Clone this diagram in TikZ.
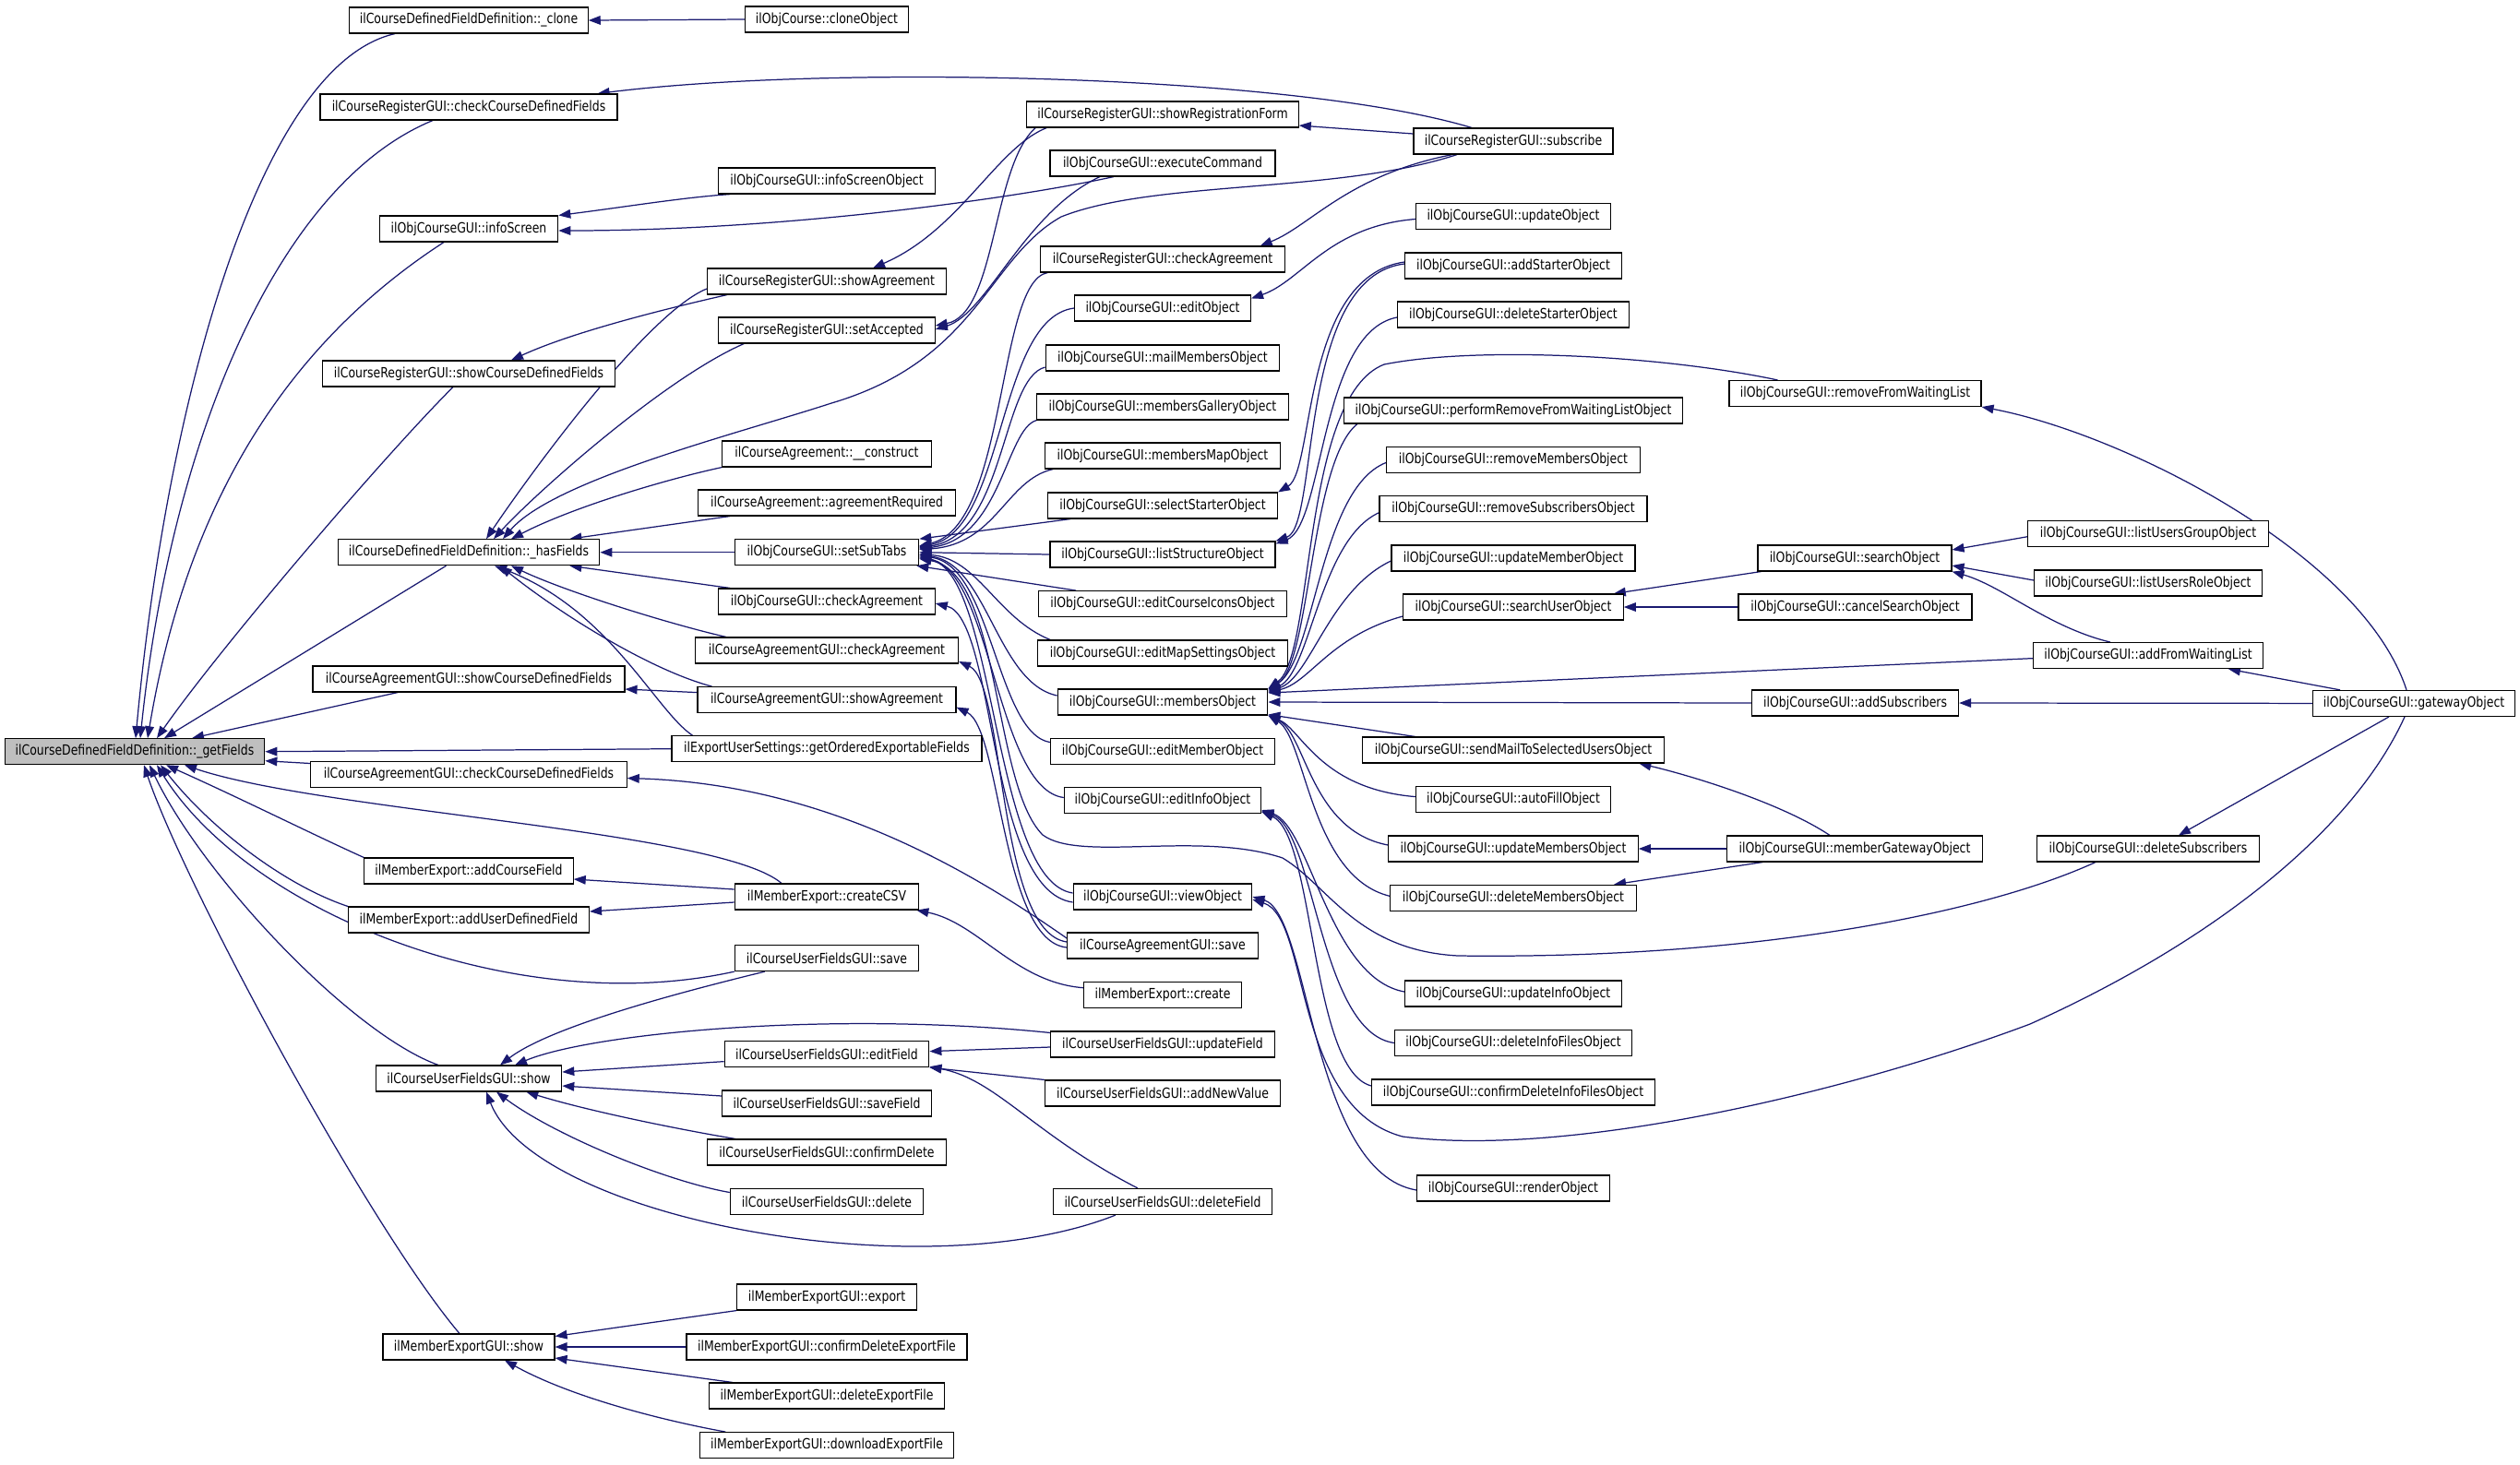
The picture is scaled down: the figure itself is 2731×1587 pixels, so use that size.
\documentclass[tikz,border=0pt]{standalone}
\usepackage{fontspec}
\newfontfamily\gfont{DejaVu Sans}[FakeStretch=0.82]
\usetikzlibrary{calc,arrows.meta}
\definecolor{edgec}{HTML}{191970}
\definecolor{hlgray}{HTML}{BFBFBF}
\newcommand\nfont{\gfont\fontsize{7.6pt}{9pt}\selectfont}
\pgfdeclarelayer{bg}
\pgfsetlayers{bg,main}
\begin{document}
\begin{tikzpicture}[x=0.5pt,y=-0.5pt,
  fn/.style={draw=black, line width=0.55pt, fill=white, minimum height=14pt, inner sep=0pt, font=\nfont},
  mw/.style={minimum width=#1pt},
  callarrow/.style={draw=edgec, line width=0.62pt, {Triangle[length=6.5pt,width=4.8pt]}-}]
\path[use as bounding box] (0,0) rectangle (2731,1587);
% column 1
\node[fn,mw=140.8,fill=hlgray] (gf) at (146,814.7) {ilCourseDefinedFieldDefinition::\_getFields};
% column 2
\node[fn,mw=129.2] (clone) at (508,22) {ilCourseDefinedFieldDefinition::\_clone};
\node[fn,mw=161] (rcdf) at (508,116) {ilCourseRegisterGUI::checkCourseDefinedFields};
\node[fn,mw=96.75] (infos) at (508,248) {ilObjCourseGUI::infoScreen};
\node[fn,mw=158.25] (rscdf) at (508,405) {ilCourseRegisterGUI::showCourseDefinedFields};
\node[fn,mw=141.8] (hf) at (508,598.7) {ilCourseDefinedFieldDefinition::\_hasFields};
\node[fn,mw=169] (ascdf) at (508,736) {ilCourseAgreementGUI::showCourseDefinedFields};
\node[fn,mw=171.2] (accdf) at (508,839.5) {ilCourseAgreementGUI::checkCourseDefinedFields};
\node[fn,mw=113.2] (acf) at (508,944) {ilMemberExport::addCourseField};
\node[fn,mw=130.5] (audf) at (508,997) {ilMemberExport::addUserDefinedField};
\node[fn,mw=100.75] (ufshow) at (508,1169) {ilCourseUserFieldsGUI::show};
\node[fn,mw=93] (megshow) at (508,1460) {ilMemberExportGUI::show};
% column 3
\node[fn,mw=88.5] (cloneobj) at (896,21) {ilObjCourse::cloneObject};
\node[fn,mw=117.2] (iso) at (896,196) {ilObjCourseGUI::infoScreenObject};
\node[fn,mw=129.5] (rsa) at (896,305) {ilCourseRegisterGUI::showAgreement};
\node[fn,mw=117.2] (rsacc) at (896,358) {ilCourseRegisterGUI::setAccepted};
\node[fn,mw=113.2] (constr) at (896,492) {ilCourseAgreement::\_\_construct};
\node[fn,mw=139.5] (areq) at (896,545) {ilCourseAgreement::agreementRequired};
\node[fn,mw=99.75] (sst) at (896,598.7) {ilObjCourseGUI::setSubTabs};
\node[fn,mw=117.2] (ocheck) at (896,652) {ilObjCourseGUI::checkAgreement};
\node[fn,mw=142.5] (acheck) at (896,705) {ilCourseAgreementGUI::checkAgreement};
\node[fn,mw=140] (ashow) at (896,758.6) {ilCourseAgreementGUI::showAgreement};
\node[fn,mw=168] (goef) at (896,811.7) {ilExportUserSettings::getOrderedExportableFields};
\node[fn,mw=99.75] (csv) at (896,972) {ilMemberExport::createCSV};
\node[fn,mw=99.75] (ufsave) at (896,1038.6) {ilCourseUserFieldsGUI::save};
\node[fn,mw=110.85] (edf) at (896,1142.6) {ilCourseUserFieldsGUI::editField};
\node[fn,mw=113.2] (savef) at (896,1196) {ilCourseUserFieldsGUI::saveField};
\node[fn,mw=129.5] (cdel) at (896,1249) {ilCourseUserFieldsGUI::confirmDelete};
\node[fn,mw=104.7] (del) at (896,1302.5) {ilCourseUserFieldsGUI::delete};
\node[fn,mw=97.3] (mexp) at (896,1406) {ilMemberExportGUI::export};
\node[fn,mw=152] (cdef) at (896,1460) {ilMemberExportGUI::confirmDeleteExportFile};
\node[fn,mw=127.5] (def) at (896,1513) {ilMemberExportGUI::deleteExportFile};
\node[fn,mw=137.25] (dlef) at (896,1566.6) {ilMemberExportGUI::downloadExportFile};
% column 4
\node[fn,mw=147.25] (srf) at (1260,124) {ilCourseRegisterGUI::showRegistrationForm};
\node[fn,mw=122] (exec) at (1260,177) {ilObjCourseGUI::executeCommand};
\node[fn,mw=132.15] (rcheck) at (1260,281) {ilCourseRegisterGUI::checkAgreement};
\node[fn,mw=95.5] (edit) at (1260,334) {ilObjCourseGUI::editObject};
\node[fn,mw=126.8] (mail) at (1260,388) {ilObjCourseGUI::mailMembersObject};
\node[fn,mw=136.15] (gallery) at (1260,441) {ilObjCourseGUI::membersGalleryObject};
\node[fn,mw=127.25] (map) at (1260,494) {ilObjCourseGUI::membersMapObject};
\node[fn,mw=124.5] (sel) at (1260,548) {ilObjCourseGUI::selectStarterObject};
\node[fn,mw=122] (lso) at (1260,601) {ilObjCourseGUI::listStructureObject};
\node[fn,mw=134.5] (icons) at (1260,654.6) {ilObjCourseGUI::editCourseIconsObject};
\node[fn,mw=135.25] (mapset) at (1260,708) {ilObjCourseGUI::editMapSettingsObject};
\node[fn,mw=113.85] (members) at (1260,761) {ilObjCourseGUI::membersObject};
\node[fn,mw=121.5] (editmem) at (1260,814.6) {ilObjCourseGUI::editMemberObject};
\node[fn,mw=106.7] (editinfo) at (1260,867.5) {ilObjCourseGUI::editInfoObject};
\node[fn,mw=96.85] (view) at (1260,972) {ilObjCourseGUI::viewObject};
\node[fn,mw=103.35] (asave) at (1260,1025) {ilCourseAgreementGUI::save};
\node[fn,mw=85.5] (mecreate) at (1260,1078.7) {ilMemberExport::create};
\node[fn,mw=121.35] (updf) at (1260,1132) {ilCourseUserFieldsGUI::updateField};
\node[fn,mw=127.5] (anv) at (1260,1185) {ilCourseUserFieldsGUI::addNewValue};
\node[fn,mw=118.8] (delf) at (1260,1302.5) {ilCourseUserFieldsGUI::deleteField};
% column 5
\node[fn,mw=108] (sub) at (1640,153) {ilCourseRegisterGUI::subscribe};
\node[fn,mw=105.5] (upd) at (1640,234.5) {ilObjCourseGUI::updateObject};
\node[fn,mw=117.5] (addst) at (1640,288) {ilObjCourseGUI::addStarterObject};
\node[fn,mw=125.5] (delst) at (1640,341) {ilObjCourseGUI::deleteStarterObject};
\node[fn,mw=183.5] (prfwl) at (1640,445) {ilObjCourseGUI::performRemoveFromWaitingListObject};
\node[fn,mw=137.5] (rmm) at (1640,498.5) {ilObjCourseGUI::removeMembersObject};
\node[fn,mw=145] (rms) at (1640,551.7) {ilObjCourseGUI::removeSubscribersObject};
\node[fn,mw=132] (umo) at (1640,605) {ilObjCourseGUI::updateMemberObject};
\node[fn,mw=119.25] (suo) at (1640,658) {ilObjCourseGUI::searchUserObject};
\node[fn,mw=163.8] (smail) at (1640,813) {ilObjCourseGUI::sendMailToSelectedUsersObject};
\node[fn,mw=105.5] (autofill) at (1640,866.6) {ilObjCourseGUI::autoFillObject};
\node[fn,mw=135.25] (umso) at (1640,920) {ilObjCourseGUI::updateMembersObject};
\node[fn,mw=133.5] (dmo) at (1640,973.3) {ilObjCourseGUI::deleteMembersObject};
\node[fn,mw=117.5] (uio) at (1640,1077) {ilObjCourseGUI::updateInfoObject};
\node[fn,mw=128.2] (difo) at (1640,1130.5) {ilObjCourseGUI::deleteInfoFilesObject};
\node[fn,mw=153.35] (cdifo) at (1640,1184) {ilObjCourseGUI::confirmDeleteInfoFilesObject};
\node[fn,mw=104.5] (render) at (1640,1288) {ilObjCourseGUI::renderObject};
% column 6
\node[fn,mw=136.5] (rfwl) at (2010.5,426.5) {ilObjCourseGUI::removeFromWaitingList};
\node[fn,mw=105] (search) at (2010,605) {ilObjCourseGUI::searchObject};
\node[fn,mw=126.5] (cso) at (2010.5,658) {ilObjCourseGUI::cancelSearchObject};
\node[fn,mw=112] (addsub) at (2010.6,762) {ilObjCourseGUI::addSubscribers};
\node[fn,mw=138.3] (mgw) at (2010,920) {ilObjCourseGUI::memberGatewayObject};
% column 7
\node[fn,mw=130.15] (lugo) at (2328,578.7) {ilObjCourseGUI::listUsersGroupObject};
\node[fn,mw=123.4] (luro) at (2328,632) {ilObjCourseGUI::listUsersRoleObject};
\node[fn,mw=124.25] (afwl) at (2328,710.6) {ilObjCourseGUI::addFromWaitingList};
\node[fn,mw=120.15] (dsub) at (2328,920) {ilObjCourseGUI::deleteSubscribers};
% column 8
\node[fn,mw=109.5] (gw) at (2616,762.4) {ilObjCourseGUI::gatewayObject};

\begin{pgfonlayer}{bg}
\fill[white] (0,0) rectangle (2731,1587);
% callers of _getFields
\draw[callarrow] ($(gf.north)+(1,0)$) .. controls (180,440) and (280,70) .. ($(clone.south)+(-80,0)$);
\draw[callarrow] ($(gf.north)+(6,0)$) .. controls (185,480) and (300,200) .. ($(rcdf.south)+(-39,0)$);
\draw[callarrow] ($(gf.north)+(14,0)$) .. controls (200,560) and (300,380) .. ($(infos.south)+(-27,0)$);
\draw[callarrow] ($(gf.north)+(24,0)$) .. controls (240,700) and (420,490) .. ($(rscdf.south)+(-17,0)$);
\draw[callarrow] ($(gf.north)+(32,0)$) -- ($(hf.south)+(-24.5,0)$);
\draw[callarrow] ($(gf.north)+(62,0)$) -- ($(ascdf.south)+(-77,0)$);
\draw[callarrow] ($(gf.south)+(10,0)$) .. controls (200,960) and (400,1330) .. ($(megshow.north)+(-10,0)$);
\draw[callarrow] ($(gf.south)+(16,0)$) .. controls (220,950) and (380,1120) .. ($(ufshow.north)+(-33,0)$);
\draw[callarrow] ($(gf.south)+(24,0)$) .. controls (270,990) and (560,1105) .. (ufsave.south west);
\draw[callarrow] ($(gf.south)+(28,0)$) .. controls (230,900) and (310,960) .. (audf.north west);
\draw[callarrow] ($(gf.south)+(34,0)$) .. controls (260,865) and (340,905) .. (acf.north west);
\draw[callarrow] ($(gf.south)+(54,0)$) .. controls (350,880) and (780,900) .. ($(csv.north)+(-49,0)$);
\draw[callarrow] (gf.east) -- (goef.west);
\draw[callarrow] ($(gf.east)+(0,10)$) -- ($(accdf.west)+(0,-12)$);
% column 2 callees
\draw[callarrow] (clone.east) -- (cloneobj.west);
\draw[callarrow] ($(rcdf.north east)+(-22,0)$) .. controls (900,70) and (1400,80) .. ($(sub.north)+(-45,0)$);
\draw[callarrow] (infos.north east) .. controls (680,224) and (740,214) .. ($(iso.south west)+(13,0)$);
\draw[callarrow] ($(infos.east)+(0,2)$) .. controls (850,250) and (1100,215) .. ($(exec.south)+(-53,0)$);
\draw[callarrow] ($(rscdf.north)+(46,0)$) .. controls (620,360) and (720,335) .. ($(rsa.south west)+(22,0)$);
\draw[callarrow] ($(hf.north)+(19,0)$) .. controls (570,520) and (700,340) .. ($(rsa.west)+(0,8)$);
\draw[callarrow] ($(hf.north)+(27,0)$) .. controls (580,535) and (720,410) .. ($(rsacc.south west)+(28,0)$);
\draw[callarrow] ($(hf.north)+(37,0)$) .. controls (600,520) and (800,470) .. (901,437) .. controls (1060,390) and (1070,280) .. (1150,235) .. controls (1250,195) and (1450,210) .. ($(sub.south)+(-61,0)$);
\draw[callarrow] ($(hf.north)+(46,0)$) .. controls (620,550) and (720,520) .. (constr.south west);
\draw[callarrow] ($(hf.north east)+(-33,0)$) -- ($(areq.south west)+(35,0)$);
\draw[callarrow] (hf.east) -- (sst.west);
\draw[callarrow] ($(hf.south east)+(-33,0)$) -- ($(ocheck.north west)+(13,0)$);
\draw[callarrow] ($(hf.south)+(46,0)$) .. controls (610,640) and (720,675) .. ($(acheck.north west)+(34,0)$);
\draw[callarrow] ($(hf.south)+(34,0)$) .. controls (600,660) and (700,725) .. ($(ashow.north west)+(16,0)$);
\draw[callarrow] ($(hf.south)+(28,0)$) .. controls (660,660) and (710,770) .. ($(goef.north west)+(23,0)$);
\draw[callarrow] ($(ascdf.east)+(0,11)$) -- ($(ashow.west)+(0,-8)$);
\draw[callarrow] ($(accdf.east)+(0,4)$) .. controls (900,850) and (1060,950) .. ($(asave.west)+(0,-8)$);
\draw[callarrow] ($(acf.east)+(0,9)$) -- ($(csv.west)+(0,-8)$);
\draw[callarrow] ($(audf.east)+(0,-9)$) -- ($(csv.west)+(0,6)$);
\draw[callarrow] ($(ufshow.north)+(34,0)$) .. controls (600,1110) and (760,1070) .. ($(ufsave.south west)+(33,0)$);
\draw[callarrow] ($(ufshow.north)+(50,0)$) .. controls (640,1120) and (900,1095) .. ($(updf.north west)+(0,2)$);
\draw[callarrow] ($(ufshow.east)+(0,-7)$) -- ($(edf.west)+(0,8)$);
\draw[callarrow] ($(ufshow.east)+(0,8)$) -- ($(savef.west)+(0,-8)$);
\draw[callarrow] ($(ufshow.south east)+(-39,0)$) .. controls (640,1205) and (740,1225) .. ($(cdel.north west)+(31,0)$);
\draw[callarrow] ($(ufshow.south)+(30,0)$) .. controls (600,1230) and (720,1280) .. ($(del.west)+(0,-10)$);
\draw[callarrow] ($(ufshow.south)+(19,0)$) .. controls (580,1320) and (1000,1400) .. ($(delf.south)+(-51,0)$);
\draw[callarrow] ($(megshow.north east)+(0,3)$) -- (mexp.south west);
\draw[callarrow] (megshow.east) -- (cdef.west);
\draw[callarrow] ($(megshow.east)+(0,12)$) -- ($(def.north west)+(26,0)$);
\draw[callarrow] ($(megshow.south)+(39,0)$) .. controls (620,1515) and (720,1540) .. ($(dlef.north west)+(28,0)$);
% column 3 callees
\draw[callarrow] ($(rsa.north)+(50,0)$) .. controls (1040,250) and (1080,160) .. ($(srf.south west)+(22,0)$);
\draw[callarrow] ($(rsacc.east)+(0,-5)$) .. controls (1080,340) and (1075,180) .. ($(srf.south west)+(10,0)$);
\draw[callarrow] ($(rsacc.east)+(0,-1)$) .. controls (1070,340) and (1110,230) .. ($(exec.south)+(-68,0)$);
\draw[callarrow] (sst.north east) -- ($(sel.south west)+(25,0)$);
\draw[callarrow] (sst.east) -- (lso.west);
\draw[callarrow] ($(sst.south east)+(-3,0)$) -- ($(icons.north west)+(41,0)$);
\draw[callarrow] ($(sst.east)+(0,-6)$) .. controls (1090,575) and (1080,345) .. (edit.west);
\draw[callarrow] ($(sst.east)+(0,-5)$) .. controls (1090,580) and (1085,410) .. ($(mail.west)+(0,10)$);
\draw[callarrow] ($(sst.east)+(0,-4)$) .. controls (1085,585) and (1090,465) .. (gallery.south west);
\draw[callarrow] ($(sst.east)+(0,-3)$) .. controls (1080,590) and (1090,520) .. ($(map.south west)+(9,0)$);
\draw[callarrow] ($(sst.east)+(0,-7)$) .. controls (1092,570) and (1080,305) .. ($(rcheck.south west)+(8,0)$);
\draw[callarrow] ($(sst.east)+(0,2)$) .. controls (1060,605) and (1080,670) .. ($(mapset.north west)+(14,0)$);
\draw[callarrow] ($(sst.east)+(0,3)$) .. controls (1070,610) and (1080,740) .. ($(members.west)+(0,-7)$);
\draw[callarrow] ($(sst.east)+(0,4)$) .. controls (1075,612) and (1080,795) .. ($(editmem.west)+(0,-10)$);
\draw[callarrow] ($(sst.east)+(0,5)$) .. controls (1075,620) and (1080,855) .. ($(editinfo.west)+(0,-3)$);
\draw[callarrow] ($(sst.east)+(0,6)$) .. controls (1080,620) and (1075,955) .. ($(view.west)+(0,-4)$);
\draw[callarrow] ($(sst.east)+(0,7)$) .. controls (1085,620) and (1075,850) .. (1130,905) .. controls (1170,935) and (1300,900) .. (1390,930) .. controls (1440,960) and (1470,1030) .. (1580,1036) .. controls (1900,1040) and (2150,990) .. ($(dsub.south)+(-57,0)$);
\draw[callarrow] ($(ocheck.east)+(0,2)$) .. controls (1080,670) and (1070,965) .. ($(view.west)+(0,6)$);
\draw[callarrow] ($(acheck.east)+(0,12)$) .. controls (1090,740) and (1080,1010) .. ($(asave.west)+(0,-4)$);
\draw[callarrow] ($(ashow.east)+(0,8)$) .. controls (1085,790) and (1085,1020) .. ($(asave.west)+(0,2)$);
\draw[callarrow] ($(csv.south east)+(-3,0)$) .. controls (1060,1000) and (1100,1065) .. ($(mecreate.west)+(0,-8)$);
\draw[callarrow] ($(edf.east)+(0,-3)$) -- ($(updf.west)+(0,3)$);
\draw[callarrow] (edf.south east) -- (anv.north west);
\draw[callarrow] ($(edf.south east)+(0,-1)$) .. controls (1080,1170) and (1120,1230) .. ($(delf.north)+(-27,0)$);
% column 4 callees
\draw[callarrow] ($(srf.east)+(0,12)$) -- ($(sub.west)+(0,-8)$);
\draw[callarrow] ($(rcheck.north east)+(-27,0)$) .. controls (1420,245) and (1460,190) .. ($(sub.south)+(-66,0)$);
\draw[callarrow] ($(edit.north east)+(0,4)$) .. controls (1410,305) and (1440,245) .. ($(upd.west)+(0,3)$);
\draw[callarrow] (sel.north east) .. controls (1425,510) and (1410,300) .. ($(addst.west)+(0,-4)$);
\draw[callarrow] (lso.north east) .. controls (1430,570) and (1405,300) .. ($(addst.west)+(0,-2)$);
\draw[callarrow] ($(lso.north east)+(0,3)$) .. controls (1435,570) and (1430,360) .. ($(delst.west)+(0,3)$);
\draw[callarrow] (members.north east) .. controls (1420,720) and (1420,500) .. ($(prfwl.south west)+(15,0)$);
\draw[callarrow] ($(members.north east)+(0,1)$) .. controls (1425,715) and (1430,530) .. ($(rmm.west)+(0,3)$);
\draw[callarrow] ($(members.north east)+(0,2)$) .. controls (1420,730) and (1430,585) .. ($(rms.west)+(0,4)$);
\draw[callarrow] ($(members.north east)+(0,3)$) .. controls (1420,735) and (1440,640) .. ($(umo.west)+(0,3)$);
\draw[callarrow] ($(members.north east)+(0,4)$) .. controls (1420,740) and (1440,690) .. ($(suo.west)+(0,10)$);
\draw[callarrow] (members.north east) .. controls (1425,710) and (1410,430) .. (1500,395) .. controls (1600,375) and (1800,385) .. ($(rfwl.north west)+(53,0)$);
\draw[callarrow] ($(members.east)+(0,-10)$) -- ($(afwl.west)+(0,3)$);
\draw[callarrow] (members.east) -- (addsub.west);
\draw[callarrow] ($(members.south east)+(0,-1)$) -- ($(smail.north west)+(58,0)$);
\draw[callarrow] (members.south east) .. controls (1410,790) and (1430,855) .. ($(autofill.west)+(0,-3)$);
\draw[callarrow] (members.south east) .. controls (1415,795) and (1420,900) .. ($(umso.west)+(0,-4)$);
\draw[callarrow] (members.south east) .. controls (1415,800) and (1420,950) .. ($(dmo.west)+(0,-2)$);
\draw[callarrow] ($(editinfo.south east)+(0,-4)$) .. controls (1420,895) and (1440,1060) .. ($(uio.west)+(0,-2)$);
\draw[callarrow] ($(editinfo.south east)+(0,-3)$) .. controls (1425,900) and (1430,1120) .. (difo.west);
\draw[callarrow] ($(editinfo.south east)+(0,-2)$) .. controls (1425,905) and (1420,1160) .. ($(cdifo.west)+(0,-7)$);
\draw[callarrow] (view.east) .. controls (1420,990) and (1420,1270) .. ($(render.west)+(0,2)$);
\draw[callarrow] ($(view.east)+(0,3)$) .. controls (1420,995) and (1400,1200) .. (1520,1232) .. controls (1700,1255) and (2000,1185) .. (2200,1110) .. controls (2400,1020) and (2550,900) .. ($(gw.south)+(-10,0)$);
% column 5/6/7 callees
\draw[callarrow] ($(suo.north east)+(-11,0)$) -- ($(search.south west)+(4,0)$);
\draw[callarrow] (suo.east) -- (cso.west);
\draw[callarrow] ($(search.east)+(0,-9)$) -- ($(lugo.west)+(0,3)$);
\draw[callarrow] ($(search.east)+(0,8)$) -- ($(luro.west)+(0,-3)$);
\draw[callarrow] (search.south east) .. controls (2170,635) and (2220,680) .. ($(afwl.north)+(-41,0)$);
\draw[callarrow] (umso.east) -- (mgw.west);
\draw[callarrow] ($(dmo.north east)+(-25,0)$) -- ($(mgw.south west)+(39,0)$);
\draw[callarrow] ($(smail.south east)+(-28,0)$) .. controls (1830,840) and (1930,870) .. ($(mgw.north)+(-27,0)$);
\draw[callarrow] ($(afwl.south)+(87,0)$) -- ($(gw.north west)+(30,0)$);
\draw[callarrow] (addsub.east) -- (gw.west);
\draw[callarrow] ($(dsub.north)+(33,0)$) -- ($(gw.south)+(-27,0)$);
\draw[callarrow] (rfwl.south east) .. controls (2300,470) and (2560,600) .. ($(gw.north)+(-8,0)$);
\end{pgfonlayer}
\end{tikzpicture}
\end{document}
